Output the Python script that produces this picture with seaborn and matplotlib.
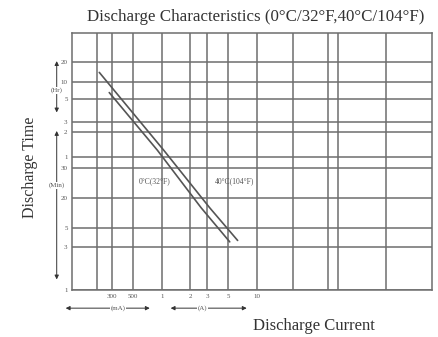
import pandas as pd
import seaborn as sns
import matplotlib.pyplot as plt
import matplotlib.transforms as mtransforms

# discharge curves (current in A, time in minutes)
current_0c = [0.28, 0.9, 2.6, 5.2]
time_0c = [470, 78, 13, 4.5]
current_40c = [0.22, 1.05, 3.2, 6.3]
time_40c = [880, 78, 13, 4.7]

# axis ticks (positions follow the printed grid of the scan)
x_ticks = [0.3, 0.5, 1, 2, 3, 5, 10]
x_labels = ['300', '500', '1', '2', '3', '5', '10']
x_grid = [0.21, 0.3, 0.5, 1, 2, 3, 5, 10, 24, 56, 72, 230]
y_ticks = [1200, 650, 390, 186, 136, 63, 45, 17.5, 7, 3.8, 1]
y_labels = ['20', '10', '5', '3', '2', '1', '30', '20', '5', '3', '1']

df = pd.DataFrame({
    'current': current_0c + current_40c,
    'time': time_0c + time_40c,
    'temp': ['0°C(32°F)'] * 4 + ['40°C(104°F)'] * 4,
})

sns.set_style('white')
plt.rcParams['font.family'] = ['Liberation Serif', 'DejaVu Serif']

fig = plt.figure(figsize=(4.38, 3.37), dpi=100)
ax = fig.add_axes([0.164, 0.139, 0.822, 0.763])

sns.lineplot(data=df, x='current', y='time', hue='temp',
             palette=['#555555', '#555555'], linewidth=1.2,
             legend=False, ax=ax)

ax.set_xscale('log')
ax.set_yscale('log')
ax.set_xlim(0.113, 700)
ax.set_ylim(1, 3000)

# grid lines
for gx in x_grid:
    ax.axvline(gx, color='#6e6e6e', lw=1.1, zorder=0)
for gy in y_ticks:
    ax.axhline(gy, color='#6e6e6e', lw=1.1, zorder=0)

ax.set_xticks(x_ticks)
ax.set_xticklabels(x_labels, fontsize=5, color='#555555')
ax.set_yticks(y_ticks)
ax.set_yticklabels(y_labels, fontsize=5, color='#555555')
ax.minorticks_off()
ax.tick_params(length=2, pad=1, color='#666666')
for s in ax.spines.values():
    s.set_color('#6e6e6e')
    s.set_linewidth(1.1)

# curve labels
ax.text(0.84, 30, '0°C(32°F)', fontsize=5.5, ha='center', va='center', color='#555555')
ax.text(5.9, 30, '40°C(104°F)', fontsize=5.5, ha='center', va='center', color='#555555')

# unit arrows under the x axis
xt = mtransforms.blended_transform_factory(ax.transData, ax.transAxes)
arrow = dict(arrowstyle='<|-|>', color='#333333', lw=0.7, mutation_scale=6)
ax.annotate('', xy=(0.091, -0.07), xytext=(0.8, -0.07), xycoords=xt,
            textcoords=xt, arrowprops=arrow, annotation_clip=False)
ax.annotate('', xy=(1.16, -0.07), xytext=(8.4, -0.07), xycoords=xt,
            textcoords=xt, arrowprops=arrow, annotation_clip=False)
ax.text(0.344, -0.07, '(mA)', transform=xt, fontsize=5, ha='center', va='center',
        color='#555555', bbox=dict(facecolor='white', edgecolor='none', pad=0.5))
ax.text(2.7, -0.07, '(A)', transform=xt, fontsize=5, ha='center', va='center',
        color='#555555', bbox=dict(facecolor='white', edgecolor='none', pad=0.5))

# unit arrows left of the y axis
yt = mtransforms.blended_transform_factory(ax.transAxes, ax.transData)
ax.annotate('', xy=(-0.042, 1365), xytext=(-0.042, 232), xycoords=yt,
            textcoords=yt, arrowprops=arrow, annotation_clip=False)
ax.annotate('', xy=(-0.042, 155), xytext=(-0.042, 1.28), xycoords=yt,
            textcoords=yt, arrowprops=arrow, annotation_clip=False)
ax.text(-0.042, 504, '(Hr)', transform=yt, fontsize=5, ha='center', va='center',
        color='#555555', bbox=dict(facecolor='white', edgecolor='none', pad=0.5))
ax.text(-0.042, 26, '(Min)', transform=yt, fontsize=5, ha='center', va='center',
        color='#555555', bbox=dict(facecolor='white', edgecolor='none', pad=0.5))

ax.set_xlabel('')
ax.set_ylabel('')
fig.text(0.583, 0.95, 'Discharge Characteristics (0°C/32°F,40°C/104°F)',
         fontsize=12.2, ha='center', va='center', color='#333333')
fig.text(0.717, 0.033, 'Discharge Current', fontsize=12, ha='center',
         va='center', color='#333333')
fig.text(0.068, 0.505, 'Discharge Time', fontsize=11.5, ha='center',
         va='center', rotation=90, color='#333333')

fig.savefig('out.png', dpi=100)
